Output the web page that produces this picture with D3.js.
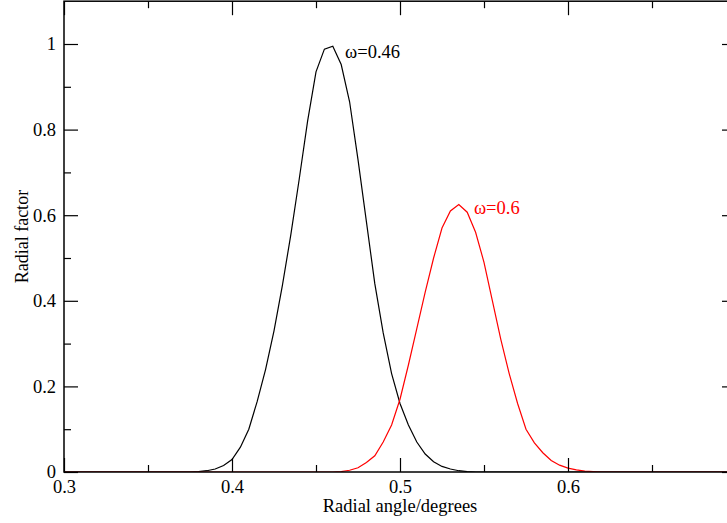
<!DOCTYPE html>
<html><head><meta charset="utf-8">
<script src="https://cdn.jsdelivr.net/npm/d3@7"></script>
<style>
html,body{margin:0;padding:0;background:#fff;}
svg{display:block;}
text{font-family:"Liberation Serif","Times New Roman",serif;}
</style></head>
<body>
<svg id="chart" width="727" height="523"></svg>
<script>
// ---- data ----
const blackX = [0.30,0.375,0.38,0.385,0.39,0.395,0.40,0.405,0.41,0.415,0.42,0.425,0.43,0.435,0.44,0.445,0.45,0.455,0.46,0.465,0.47,0.475,0.48,0.485,0.49,0.495,0.50,0.505,0.51,0.515,0.52,0.525,0.53,0.535,0.54,0.545,0.70];
const blackY = [0,0,0.001,0.003,0.007,0.015,0.029,0.058,0.10,0.165,0.24,0.33,0.436,0.554,0.684,0.82,0.935,0.988,0.995,0.952,0.865,0.73,0.585,0.44,0.325,0.23,0.16,0.11,0.07,0.042,0.024,0.013,0.007,0.003,0.001,0,0];
const redX = [0.30,0.46,0.465,0.47,0.475,0.48,0.485,0.49,0.495,0.50,0.505,0.51,0.515,0.52,0.525,0.53,0.535,0.54,0.545,0.55,0.555,0.56,0.565,0.57,0.575,0.58,0.585,0.59,0.595,0.60,0.605,0.61,0.615,0.62,0.70];
const redY = [0,0,0.001,0.004,0.01,0.022,0.038,0.07,0.11,0.17,0.25,0.335,0.42,0.50,0.57,0.61,0.625,0.607,0.56,0.49,0.40,0.31,0.23,0.16,0.10,0.068,0.045,0.027,0.016,0.009,0.005,0.002,0.001,0,0];
const xMajor = [0.3,0.4,0.5,0.6];
const xMajorLabels = ["0.3","0.4","0.5","0.6"];
const xMinor = [0.35,0.45,0.55,0.65];
const yMajor = [0,0.2,0.4,0.6,0.8,1.0];
const yMajorLabels = ["0","0.2","0.4","0.6","0.8","1"];
const yMinor = [0.1,0.3,0.5,0.7,0.9];
const seriesLabels = ["\u03c9=0.46","\u03c9=0.6"];
const labelAnchors = [[0.4673,0.967],[0.544,0.603]];
const xTitle = "Radial angle/degrees";
const yTitle = "Radial factor";

// ---- layout ----
const L = 64, R = 736, T = 1.2, B = 472;
const svg = d3.select("#chart");
const x = d3.scaleLinear().domain([0.3,0.7]).range([L,R]);
const y = d3.scaleLinear().domain([0,1.1]).range([B,T]);

svg.append("defs").append("clipPath").attr("id","clip")
  .append("rect").attr("x",L).attr("y",T).attr("width",R-L).attr("height",B-T);

const line = d3.line().x(d=>x(d[0])).y(d=>y(d[1]));
const g = svg.append("g").attr("clip-path","url(#clip)");
g.append("path").datum(blackX.map((v,i)=>[v,blackY[i]]))
  .attr("d",line).attr("fill","none").attr("stroke","#000").attr("stroke-width",1.2);
g.append("path").datum(redX.map((v,i)=>[v,redY[i]]))
  .attr("d",line).attr("fill","none").attr("stroke","#ff0000").attr("stroke-width",1.2);

function styleAxis(sel){
  sel.select(".domain").remove();
  sel.selectAll(".tick line").attr("stroke","#000").attr("stroke-width",1.2);
  sel.selectAll("text").attr("font-size","18.5px").attr("fill","#000")
     .attr("font-family","Liberation Serif, serif");
}
// bottom
svg.append("g").attr("transform",`translate(0,${B})`)
  .call(d3.axisBottom(x).tickValues(xMajor).tickSize(-14).tickPadding(8)
    .tickFormat((d,i)=>xMajorLabels[i])).call(styleAxis);
svg.append("g").attr("transform",`translate(0,${B})`)
  .call(d3.axisBottom(x).tickValues(xMinor).tickSize(-7).tickFormat("")).call(styleAxis);
// top
svg.append("g").attr("transform",`translate(0,${T})`)
  .call(d3.axisTop(x).tickValues(xMajor).tickSize(-14).tickFormat("")).call(styleAxis);
svg.append("g").attr("transform",`translate(0,${T})`)
  .call(d3.axisTop(x).tickValues(xMinor).tickSize(-7).tickFormat("")).call(styleAxis);
// left
svg.append("g").attr("transform",`translate(${L},0)`)
  .call(d3.axisLeft(y).tickValues(yMajor).tickSize(-14).tickPadding(8)
    .tickFormat((d,i)=>yMajorLabels[i])).call(styleAxis);
svg.append("g").attr("transform",`translate(${L},0)`)
  .call(d3.axisLeft(y).tickValues(yMinor).tickSize(-7).tickFormat("")).call(styleAxis);
// right
svg.append("g").attr("transform",`translate(${R},0)`)
  .call(d3.axisRight(y).tickValues(yMajor).tickSize(-14).tickFormat("")).call(styleAxis);
svg.append("g").attr("transform",`translate(${R},0)`)
  .call(d3.axisRight(y).tickValues(yMinor).tickSize(-7).tickFormat("")).call(styleAxis);

// frame
svg.append("rect").attr("x",L).attr("y",T).attr("width",R-L).attr("height",B-T)
  .attr("fill","none").attr("stroke","#000").attr("stroke-width",1.5);

// titles
svg.append("text").attr("x",400).attr("y",512).attr("text-anchor","middle")
  .attr("font-size","18.5px").text(xTitle);
svg.append("text").attr("transform",`translate(28,${(B+T)/2}) rotate(-90)`)
  .attr("text-anchor","middle").attr("font-size","18px").text(yTitle);

// series labels
const labColors = ["#000","#ff0000"];
seriesLabels.forEach((t,i)=>{
  svg.append("text").attr("x",x(labelAnchors[i][0])).attr("y",y(labelAnchors[i][1]))
    .attr("font-size","18.5px").attr("fill",labColors[i]).text(t);
});
</script>
</body></html>
